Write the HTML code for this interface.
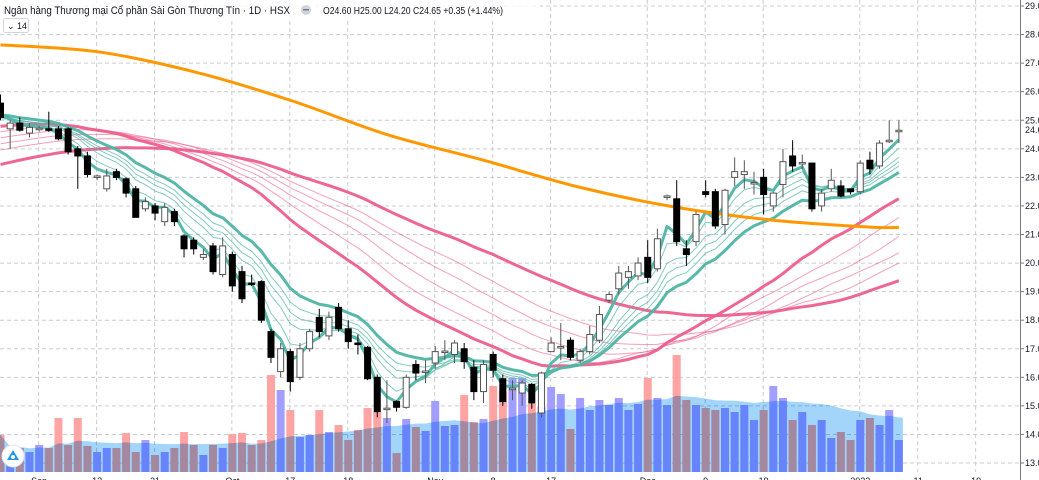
<!DOCTYPE html>
<html><head><meta charset="utf-8"><style>
html,body{margin:0;padding:0;background:#fff;width:1039px;height:480px;overflow:hidden}
svg{display:block;font-family:"Liberation Sans","Noto Sans CJK SC",sans-serif}
</style></head><body>
<svg id="chart" width="1039" height="480" viewBox="0 0 1039 480" xmlns="http://www.w3.org/2000/svg">
<g id="grid"></g>
<g id="vol"></g>
<g id="lines"></g>
<g id="candles"></g>
<g id="axis"></g>
<g>
<rect x="0" y="0" width="540" height="18" fill="#fff" opacity="0.8"/>
<text x="4" y="14" font-size="11" fill="#131722" textLength="286" lengthAdjust="spacingAndGlyphs">Ngân hàng Thương mại Cổ phần Sài Gòn Thương Tín · 1D · HSX</text>
<circle cx="306" cy="10" r="5" fill="#d1d4dc"/>
<rect x="303" y="9" width="6" height="1.5" fill="#787b86"/>
<text x="323" y="14" font-size="10" fill="#131722" textLength="180" lengthAdjust="spacingAndGlyphs">O24.60 H25.00 L24.20 C24.65 +0.35 (+1.44%)</text>
<rect x="3.5" y="18.5" width="25" height="14" fill="#fff" stroke="#d1d4dc" rx="2"/>
<text x="7" y="29" font-size="9" fill="#131722">⌄ 14</text>
</g>
<g>
<circle cx="13" cy="456" r="11" fill="#fff" stroke="#e0e3eb"/>
<path d="M7 460 L13 450 L19 460 Z" fill="#2196f3"/>
<circle cx="13" cy="457" r="2" fill="#fff"/>
</g>
</svg>
<script>
const opens=[25.6,24.7,24.9,24.55,24.7,24.7,24.7,24.7,24.0,23.75,23.0,22.6,23.2,22.95,22.6,21.9,22.0,21.45,21.8,20.95,20.8,20.2,20.6,19.6,20.3,19.7,19.3,19.35,17.6,16.2,16.9,16.0,17.0,18.1,17.45,18.45,17.7,17.2,17.05,16.0,14.9,15.15,14.95,16.45,16.2,16.5,16.9,16.8,17.0,16.35,15.5,16.8,15.95,15.6,15.45,15.75,14.75,16.9,17.05,17.3,16.6,16.9,17.3,18.7,19.1,19.5,19.55,20.2,19.8,22.3,22.25,20.5,20.75,22.5,22.5,21.35,23.0,23.1,22.8,23.0,22.0,22.75,23.75,23.5,23.5,22.0,22.6,22.7,22.6,22.5,23.6,23.4,24.25,24.6];
const closes=[25.1,24.9,24.65,24.75,24.72,24.68,24.35,23.9,23.75,23.1,23.05,23.05,23.0,22.45,21.6,22.15,21.75,21.95,21.45,20.5,20.5,20.3,19.7,20.6,19.2,18.75,19.28,18.0,16.7,17.0,15.85,17.0,17.6,17.6,18.1,17.7,17.25,17.18,15.95,14.8,14.92,14.95,16.0,16.15,16.22,16.9,16.92,17.2,16.55,15.5,16.45,16.25,15.15,15.62,15.8,15.1,16.15,17.2,17.08,16.7,16.9,17.5,18.2,18.9,19.65,19.7,20.0,19.5,20.85,22.35,20.75,20.3,21.7,22.4,21.3,22.55,23.2,23.2,22.82,22.4,22.45,23.55,23.4,23.52,21.9,22.45,22.9,22.35,22.5,23.5,23.3,24.2,24.3,24.65];
const highs=[25.9,25.0,25.1,24.9,24.8,25.3,24.8,24.75,24.1,23.9,23.1,23.3,23.3,23.0,22.7,22.3,22.1,22.1,21.9,21.0,20.9,20.5,20.7,20.9,20.4,19.9,19.6,19.4,17.7,17.2,17.0,17.2,17.7,18.4,18.3,18.6,18.0,17.5,17.1,16.1,15.9,15.2,16.1,16.6,16.6,17.1,17.3,17.3,17.2,16.6,16.6,16.9,16.1,15.9,15.9,15.8,16.2,17.4,17.9,17.4,17.0,17.8,18.5,19.0,19.9,19.9,20.2,20.8,21.2,22.4,22.9,20.8,21.8,22.9,22.6,22.6,23.7,23.6,23.2,23.3,22.5,24.0,24.3,23.8,23.5,22.6,23.3,22.9,22.6,23.6,23.9,24.3,25.0,25.0];
const lows=[25.0,24.0,24.6,24.4,24.6,24.6,24.3,23.8,22.6,23.0,22.9,22.5,22.9,22.3,21.6,21.8,21.5,21.3,21.3,20.2,20.3,20.1,19.6,19.5,19.0,18.6,19.2,17.9,16.5,16.0,15.5,15.9,16.9,17.4,17.3,17.6,17.0,16.8,15.9,14.6,14.4,14.8,14.9,15.9,15.8,16.3,16.6,16.5,16.3,15.2,15.1,16.0,15.0,15.2,15.0,14.9,14.6,16.9,16.6,16.6,16.5,16.8,17.2,18.6,18.9,19.1,19.4,19.3,19.7,22.2,20.6,19.9,20.6,22.3,21.2,21.0,22.7,22.6,22.4,21.7,21.8,22.3,23.2,23.3,21.8,21.8,22.5,22.3,22.4,22.4,23.1,23.3,24.2,24.2];
const volumes=[3.7,1.4,2.4,2.0,2.7,2.4,5.4,2.7,5.4,2.6,2.0,2.4,2.4,3.9,2.0,3.2,1.7,2.0,2.4,4.0,2.7,1.7,2.7,2.4,3.8,3.9,2.7,3.2,9.7,8.2,6.2,3.5,3.7,6.2,4.0,4.7,3.2,4.2,6.4,6.0,5.4,1.9,5.3,4.5,4.1,7.1,4.6,4.7,7.7,5.0,5.3,8.6,8.1,9.4,9.4,6.8,6.5,8.5,7.8,4.3,7.4,6.2,7.2,6.7,7.4,6.2,6.8,9.4,7.4,6.7,11.7,7.2,6.7,6.4,6.2,6.4,6.0,6.7,5.2,6.2,8.6,7.4,5.2,6.0,4.7,5.2,3.4,4.0,3.2,5.2,5.4,4.7,6.2,3.2];
const priorCloses=[20.2,20.4,20.1,20.6,20.9,21.0,20.8,21.2,21.5,21.3,21.6,21.9,21.7,22.0,22.3,22.1,22.4,22.6,22.2,22.5,22.8,22.6,22.9,23.1,22.8,23.0,23.3,23.1,23.4,23.6,23.8,24.1,23.9,24.3,24.6,24.4,24.8,25.1,24.9,25.2,24.8,24.5,24.9,25.3,25.0,24.7,24.4,24.8,25.1,24.9,24.6,24.3,24.7,25.0,24.8,24.5,24.9,25.2,25.4,25.5];
const ma200=[27.64,27.4,26.7,25.7,24.5,23.6,22.65,21.95,21.5,21.26,21.25];
const ma200Idx=[0,10,20,30,40,50,60,70,80,90,93];
const tealPeriods=[3,5,8,10,12,15];
const tealSeeds=[25.25,25.2,25.15,25.1,25.05,25.2];
const pinkPeriods=[30,35,40,45,50,60];
const priceTicks=[13,14,15,16,17,18,19,20,21,22,23,24,25,26,27,28,29];
const timeLabels=["Sep","12","21","Oct","17","18","Nov","8","17","Dec","9","19","2022","11","19"];
const timeLabelIdx=[4,10,16,24,30,36,45,51,57,67,73,79,89,95,101];

const NS="http://www.w3.org/2000/svg";
const y=p=>463-(p-13)*28.5625;
const x=i=>0.5+9.66*i;
const vy=v=>472-v*10;
function mk(tag,attrs,parent){const e=document.createElementNS(NS,tag);for(const k in attrs)e.setAttribute(k,attrs[k]);parent.appendChild(e);return e;}
const G=id=>document.getElementById(id);

priceTicks.forEach(p=>{const l=mk('line',{x1:0,x2:1020,y1:y(p),y2:y(p),stroke:'#c9ccd4','stroke-dasharray':'4 3','stroke-width':1},G('grid'));

});
timeLabelIdx.forEach(i=>{const l=mk('line',{x1:x(i)-0.5,x2:x(i)-0.5,y1:0,y2:472,stroke:'#c9ccd4','stroke-dasharray':'4 3','stroke-width':1},G('grid'));

});

const volG=G('vol');
volumes.forEach((v,i)=>{const up=closes[i]>=opens[i];
const r=mk('rect',{x:x(i)-4,y:vy(v),width:8,height:472-vy(v),fill:up?'#a29eff':'#ffa3a3'},volG);

});
let pts=[];
volumes.forEach((v,i)=>{let s=0,n=0;for(let k=Math.max(0,i-19);k<=i;k++){s+=volumes[k];n++;}pts.push([x(i),vy(s/n)]);});
let d='M'+(x(0)-5)+' 472 L'+(x(0)-5)+' '+pts[0][1]+' '+pts.map(p=>'L'+p[0]+' '+p[1]).join(' ')+' L'+(x(93)+4)+' '+pts[93][1]+' L'+(x(93)+4)+' 472 Z';
const area=mk('path',{d:d,fill:'#a3d5fb',style:'mix-blend-mode:multiply'},volG);



function ema(period,seed){const a=2/(period+1);let e=seed;return closes.map(c=>(e=e+a*(c-e)));}
const allCloses=priorCloses.concat(closes);
function sma(period){const off=priorCloses.length;return closes.map((c,i)=>{let s=0;for(let k=off+i-period+1;k<=off+i;k++)s+=allCloses[k];return s/period;});}
function drawLine(vals,color,w,op,name){const pd=vals.map((v,i)=>(i?'L':'M')+x(i)+' '+y(v)).join(' ');
const p=mk('path',{d:pd,fill:'none',stroke:color,'stroke-width':w,opacity:op,'stroke-linejoin':'round'},G('lines'));

}
pinkPeriods.forEach((p,k)=>{const thick=(k===0||k===pinkPeriods.length-1);drawLine(sma(p),'#ec5f8c',thick?3:1,thick?0.95:0.6,'pink-sma-'+p);});
tealPeriods.forEach((p,k)=>{const thick=(k===0||k===tealPeriods.length-1);drawLine(ema(p,tealSeeds[k]),'#4fb5a5',thick?3:1,thick?0.95:0.7,'teal-ema-'+p);});
{const P=ma200.map((v,k)=>[x(ma200Idx[k]),y(v)]);
let pd='M'+P[0][0]+' '+P[0][1];
for(let k=0;k<P.length-1;k++){const p0=P[Math.max(0,k-1)],p1=P[k],p2=P[k+1],p3=P[Math.min(P.length-1,k+2)];
const c1=[p1[0]+(p2[0]-p0[0])/6,p1[1]+(p2[1]-p0[1])/6],c2=[p2[0]-(p3[0]-p1[0])/6,p2[1]-(p3[1]-p1[1])/6];
pd+=' C'+c1[0]+' '+c1[1]+' '+c2[0]+' '+c2[1]+' '+p2[0]+' '+p2[1];}
const p=mk('path',{d:pd,fill:'none',stroke:'#ff9800','stroke-width':3,'stroke-linejoin':'round'},G('lines'));

}

opens.forEach((o,i)=>{const c=closes[i],up=c>=o,cx=x(i);
const w=mk('line',{x1:cx,x2:cx,y1:y(highs[i]),y2:y(lows[i]),stroke:up?'#555':'#000','stroke-width':1},G('candles'));


const top=y(Math.max(o,c)),h=Math.max(1.5,Math.abs(y(o)-y(c)));
const b=mk('rect',{x:cx-3,y:top,width:6,height:h,fill:up?'#fff':'#000',stroke:up?'#555':'#000','stroke-width':1},G('candles'));

});

const ax=G('axis');
mk('line',{x1:1020.5,x2:1020.5,y1:0,y2:480,stroke:'#787b86','stroke-width':1},ax);
priceTicks.forEach(p=>{mk('line',{x1:1020,x2:1024,y1:y(p),y2:y(p),stroke:'#787b86'},ax);
const t=mk('text',{x:1025,y:y(p)+3,'font-size':9,fill:'#131722'},ax);t.textContent=p.toFixed(2);

});
{const last=closes[closes.length-1];
mk('rect',{x:1021,y:y(last)-6,width:18,height:12,fill:'#fff'},ax);
const t=mk('text',{x:1025,y:y(last)+3,'font-size':9,fill:'#131722'},ax);t.textContent=last.toFixed(2);

}
timeLabels.forEach((s,k)=>{const t=mk('text',{x:x(timeLabelIdx[k]),y:484,'font-size':9,fill:'#131722','text-anchor':'middle'},ax);t.textContent=s;

});
</script>
</body></html>
